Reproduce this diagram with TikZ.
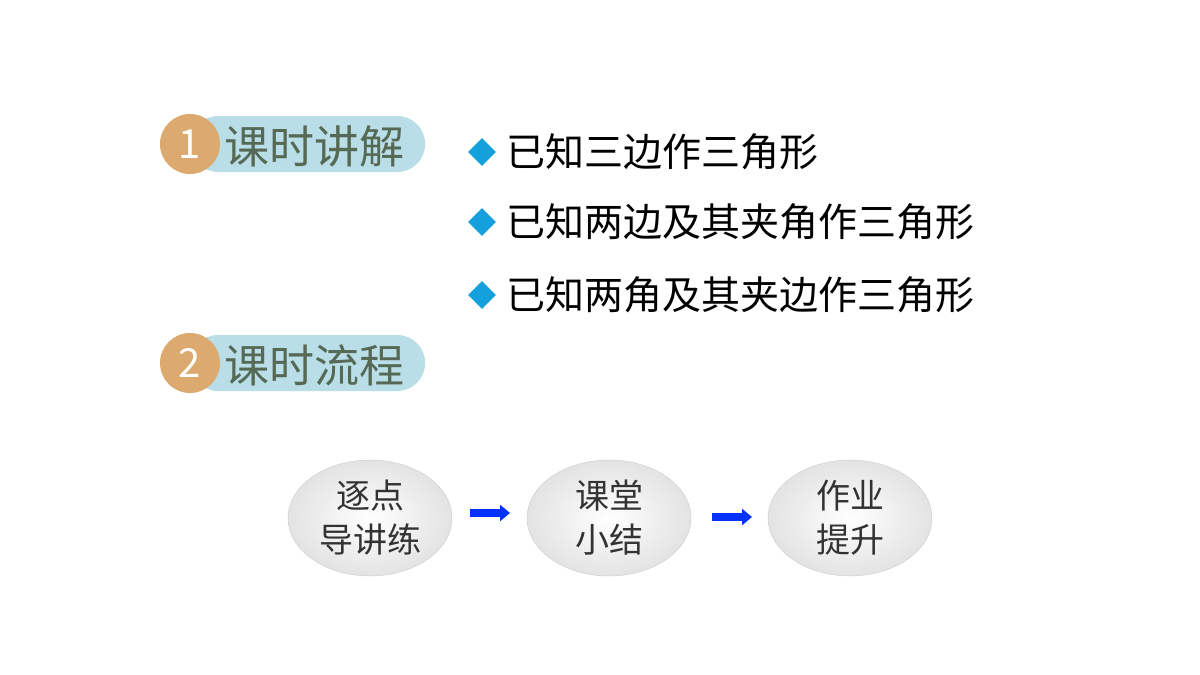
\documentclass[tikz,border=0pt]{standalone}
\usepackage{fontspec}
\setmainfont{Noto Sans CJK SC}
\usetikzlibrary{shapes.geometric,arrows.meta}
\definecolor{tan}{RGB}{220,170,110}
\definecolor{pill}{RGB}{185,222,232}
\definecolor{hdr}{RGB}{85,105,85}
\definecolor{dia}{RGB}{20,160,220}
\tikzset{
 x=1pt,y=-1pt,
 pillbox/.style={fill=pill,rounded corners=28pt,minimum width=235pt,minimum height=56pt,anchor=west},
 badge/.style={circle,fill=tan,minimum size=60pt,text=white,font=\fontsize{40}{40}\selectfont},
 hdrtext/.style={text=hdr,font=\fontsize{45}{45}\selectfont,anchor=west,inner sep=0pt},
 bul/.style={diamond,fill=dia,minimum size=28pt,inner sep=0pt},
 bultext/.style={font=\fontsize{39}{39}\selectfont,anchor=west,inner sep=0pt},
 oval/.style={ellipse,minimum width=164pt,minimum height=112pt,draw=gray!40,inner color=white,outer color=gray!22,font=\fontsize{34}{44}\selectfont,align=center,text=black!80},
 flow/.style={-{Triangle[length=10pt,width=16pt]},line width=8pt,blue!80!cyan}
}
\begin{document}
\begin{tikzpicture}
\useasboundingbox (0,0) rectangle (1200,675);
\fill[white] (0,0) rectangle (1200,675);
\node[pillbox] (p1) at (190,144) {};
\node[badge] (b1) at (190,144) {1};
\node[hdrtext] (h1) at (224,146) {课时讲解};
\node[pillbox] (p2) at (190,363) {};
\node[badge] (b2) at (190,363) {2};
\node[hdrtext] (h2) at (224,365) {课时流程};
\node[bul] (d1) at (482,152) {};
\node[bultext] (t1) at (506,152) {已知三边作三角形};
\node[bul] (d2) at (482,222) {};
\node[bultext] (t2) at (506,222) {已知两边及其夹角作三角形};
\node[bul] (d3) at (482,295) {};
\node[bultext] (t3) at (506,295) {已知两角及其夹边作三角形};
\node[oval] (o1) at (370,518) {逐点\\导讲练};
\node[oval] (o2) at (609,518) {课堂\\小结};
\node[oval] (o3) at (850,518) {作业\\提升};
\draw[flow] (470,513) -- (510,513);
\draw[flow] (712,517) -- (752,517);
\end{tikzpicture}
\end{document}
